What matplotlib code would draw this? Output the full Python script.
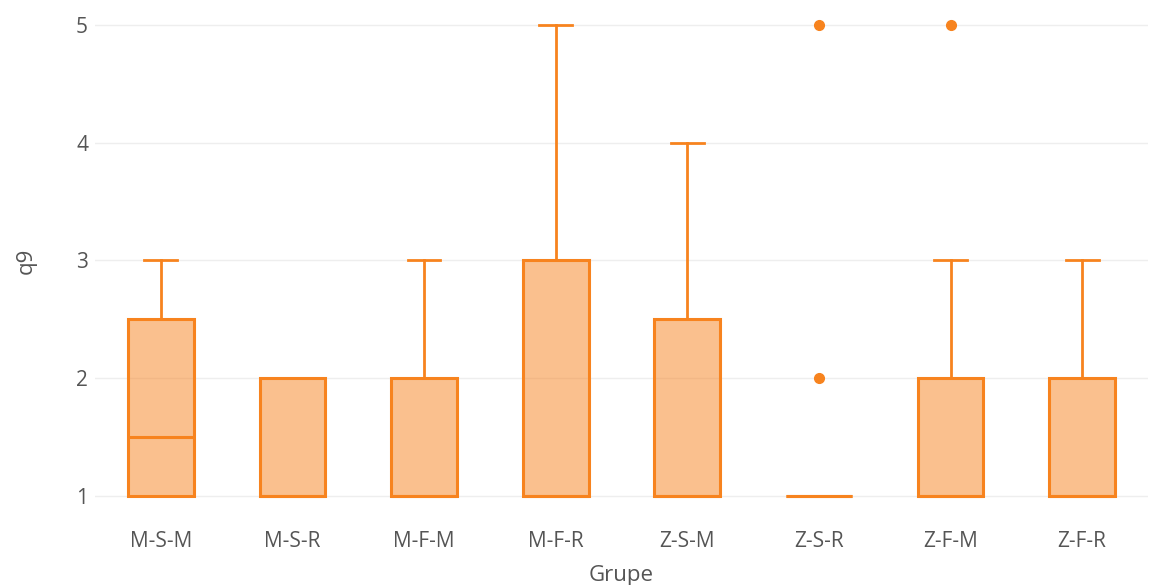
import matplotlib.pyplot as plt

# box statistics per group
groups = ['M-S-M', 'M-S-R', 'M-F-M', 'M-F-R', 'Z-S-M', 'Z-S-R', 'Z-F-M', 'Z-F-R']
q1 = [1, 1, 1, 1, 1, 1, 1, 1]
med = [1.5, 1, 1, 1, 1, 1, 1, 1]
q3 = [2.5, 2, 2, 3, 2.5, 1, 2, 2]
whis_lo = [1, 1, 1, 1, 1, 1, 1, 1]
whis_hi = [3, 2, 3, 5, 4, 1, 3, 3]
outliers = [[], [], [], [], [], [2, 5], [5], []]

orange = '#f7831e'
text_col = '#555555'

plt.rcParams['font.family'] = ['Open Sans', 'DejaVu Sans']

fig = plt.figure(figsize=(11.54, 5.85), dpi=100)
ax = fig.add_axes([0.0823, 0.112, 0.9125, 0.8855])

stats = []
for i in range(len(groups)):
    stats.append({'label': groups[i], 'q1': q1[i], 'med': med[i], 'q3': q3[i],
                  'whislo': whis_lo[i], 'whishi': whis_hi[i], 'fliers': outliers[i]})

bp = ax.bxp(stats, positions=range(len(groups)), widths=0.5, patch_artist=True,
            boxprops=dict(facecolor=(0.97, 0.51, 0.12, 0.5), edgecolor=orange, linewidth=2.2),
            medianprops=dict(color=orange, linewidth=2.2, solid_capstyle='butt'),
            whiskerprops=dict(color=orange, linewidth=2),
            capprops=dict(color=orange, linewidth=2),
            capwidths=0.25,
            flierprops=dict(marker='o', markerfacecolor=orange, markeredgecolor=orange,
                            markersize=7, linestyle='none'))

ax.set_xlim(-0.5, len(groups) - 0.5)
ax.set_ylim(0.8, 5.2)
ax.set_yticks([1, 2, 3, 4, 5])
ax.grid(axis='y', color='#eeeeee', linewidth=1)
ax.set_axisbelow(True)
for s in ax.spines.values():
    s.set_visible(False)
ax.tick_params(length=0, labelsize=15, labelcolor=text_col)
ax.tick_params(axis='x', pad=8)
ax.tick_params(axis='y', pad=5)

ax.set_xlabel('Grupe', fontsize=16, color=text_col, labelpad=10)
ax.set_ylabel('q9', fontsize=16, color=text_col, labelpad=28)

fig.savefig('out.png', dpi=100)
